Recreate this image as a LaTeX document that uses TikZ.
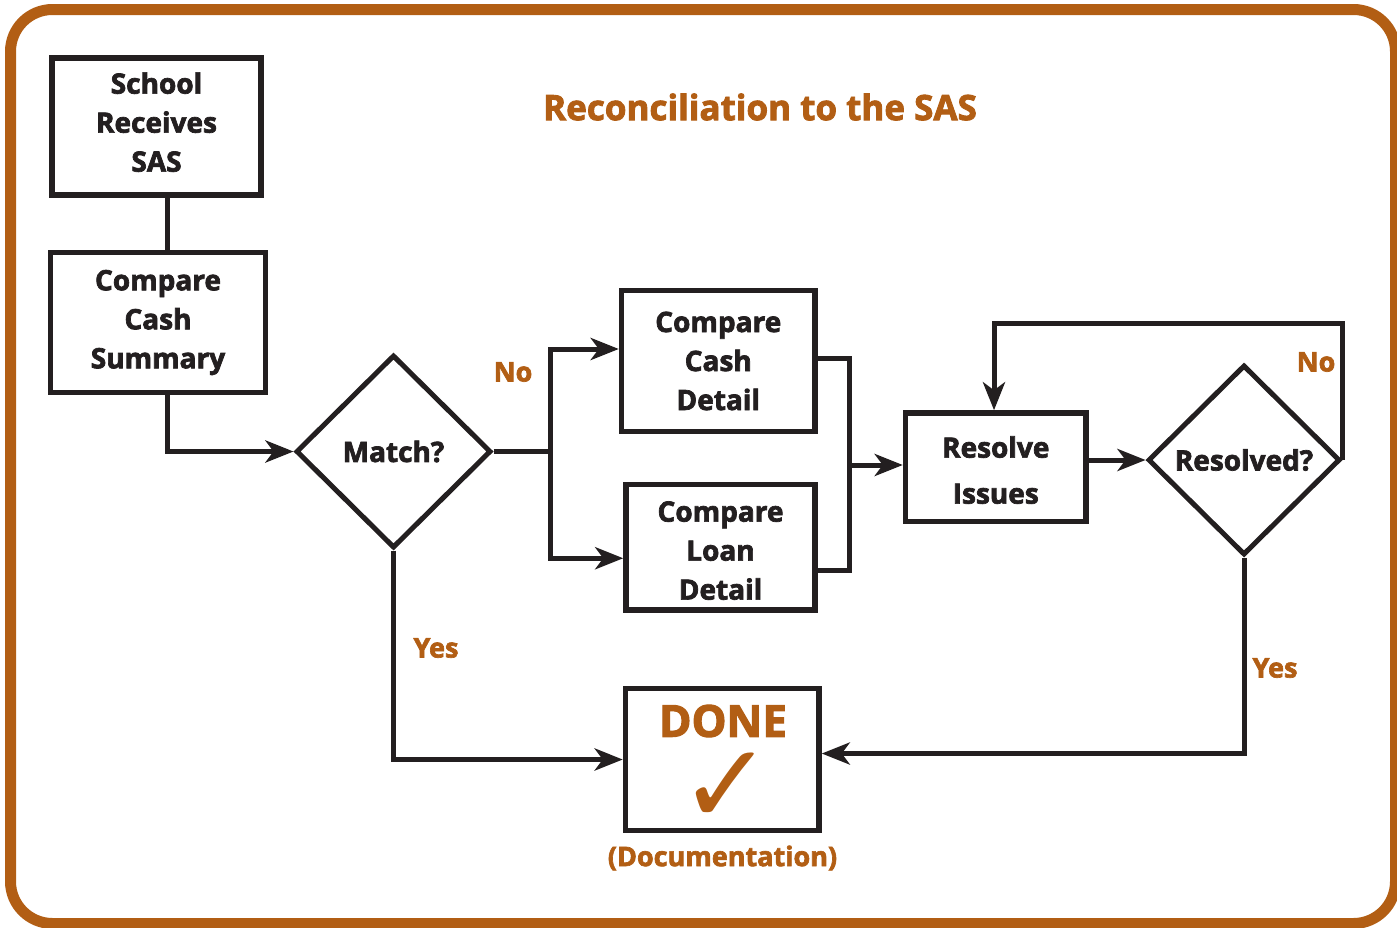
\documentclass[tikz,border=0pt]{standalone}
\usepackage{fontspec}
\setmainfont[BoldFeatures={FakeBold=2.5}]{Open Sans}
\newfontfamily\symfont{DejaVu Sans}
\usetikzlibrary{shapes.geometric,arrows.meta}
\definecolor{brn}{HTML}{B25E14}
\definecolor{ink}{HTML}{231F20}
\newcommand{\lift}[1]{\rule[-#1pt]{0pt}{#1pt}}
\begin{document}
\begin{tikzpicture}[x=1pt,y=-1pt,
  box/.style={draw=ink,line width=5.5pt,inner sep=0pt,align=center,text=ink,
    font=\bfseries\fontsize{28}{39}\selectfont},
  dia/.style={diamond,draw=ink,line width=5pt,inner sep=0pt,text=ink,
    font=\bfseries\fontsize{28}{36}\selectfont},
  ln/.style={draw=ink,line width=5pt},
  arr/.style={draw=ink,line width=5pt,-{Stealth[length=28pt,width=22pt,inset=8pt]}},
  lbl/.style={text=brn,inner sep=0pt,font=\bfseries\fontsize{27}{34}\selectfont}]
\useasboundingbox (0,0) rectangle (1397,927);
\draw[brn,line width=11pt,rounded corners=42pt] (10.5,9.5) rectangle (1395.5,923.5);

\node[lbl,font=\bfseries\fontsize{35}{44}\selectfont] (title) at (760,107) {Reconciliation to the SAS};

\node[box,minimum width=209pt,minimum height=137pt] (school) at (156.5,126.5) {School\\Receives\\SAS\lift{9}};
\node[box,minimum width=215pt,minimum height=140pt] (summary) at (158,322.5) {Compare\\Cash\\Summary\lift{4}};
\node[dia,minimum width=195pt,minimum height=193pt] (match) at (393.5,451.5) {Match?};
\node[box,minimum width=193.5pt,minimum height=141pt] (cashd) at (718.25,361) {Compare\\Cash\\Detail};
\node[box,minimum width=189pt,minimum height=125.5pt] (loand) at (720.5,547.25) {\rule{0pt}{27pt}Compare\\Loan\\Detail};
\node[box,minimum width=180.5pt,minimum height=108.5pt,font=\bfseries\fontsize{28}{46}\selectfont] (resolve) at (995.75,467.25) {\rule{0pt}{27pt}Resolve\\Issues};
\node[dia,minimum width=192pt,minimum height=190pt] (resd) at (1244,460) {Resolved?};
\node[box,minimum width=193.5pt,minimum height=142pt] (done) at (722.25,759.5) {};
\node[text=brn,inner sep=0pt,font=\bfseries\fontsize{44}{50}\selectfont] (donetxt) at (723,721) {DONE};
\node[text=brn,inner sep=0pt,font=\symfont\fontsize{112}{112}\selectfont] (check) at (726,823) {\smash{✓}};
\node[lbl] (doc) at (722.5,858) {(Documentation)};

\node[lbl] (no1) at (513,372) {No};
\node[lbl] (yes1) at (436,648) {Yes};
\node[lbl] (no2) at (1316,362) {No};
\node[lbl] (yes2) at (1275,668) {Yes};

\coordinate (cx) at (167,0);
\coordinate (sp) at (550,451.5);
\coordinate (jn) at (849,465);
\coordinate (ltop) at (994,323);

\draw[ln] (school.south -| cx) -- (summary.north -| cx);
\draw[arr] (summary.south -| cx) |- (match.west);
\draw[ln] (match.east) -- (sp);
\draw[arr] (sp) |- ([yshift=12pt]cashd.west);
\draw[arr] (sp) |- ([yshift=-11pt]loand.west);
\draw[ln] ([yshift=3pt]cashd.east) -| (jn) |- ([yshift=-23pt]loand.east);
\draw[arr] (jn) -- (jn -| resolve.west);
\draw[arr] (resolve.east |- resd.west) -- (resd.west);
\draw[arr] (resd.east) |- (ltop) -- (ltop |- resolve.north);
\draw[arr] (resd.south) |- ([yshift=6pt]done.east);
\draw[arr] (match.south) |- (done.west);
\end{tikzpicture}
\end{document}
